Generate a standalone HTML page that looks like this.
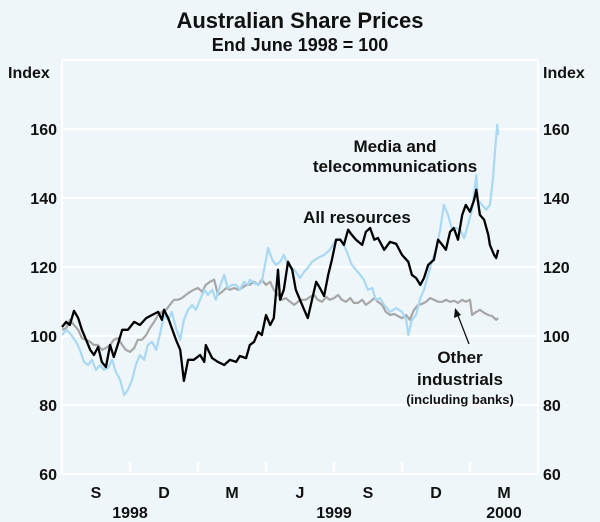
<!DOCTYPE html>
<html><head><meta charset="utf-8"><style>
body{margin:0;background:#eef6fa;}
svg{display:block;font-family:"Liberation Sans",Arial,sans-serif;}
</style></head><body>
<svg id="chart" width="600" height="522" viewBox="0 0 600 522">
<rect x="0" y="0" width="600" height="522" fill="#eef6fa"/>
<text x="300" y="28" text-anchor="middle" font-size="22" font-weight="bold" fill="#111">Australian Share Prices</text>
<text x="300" y="51" text-anchor="middle" font-size="18" font-weight="bold" fill="#111">End June 1998 = 100</text>
<text x="8" y="78" font-size="16" font-weight="bold" fill="#111">Index</text>
<text x="543" y="78" font-size="16" font-weight="bold" fill="#111">Index</text>
<g id="grid"></g>
<g id="series"></g>
<text x="395" y="152" text-anchor="middle" font-size="17" font-weight="bold" fill="#111">Media and</text>
<text x="395" y="172" text-anchor="middle" font-size="17" font-weight="bold" fill="#111">telecommunications</text>
<text x="357" y="223" text-anchor="middle" font-size="17" font-weight="bold" fill="#111">All resources</text>
<text x="460" y="363" text-anchor="middle" font-size="17" font-weight="bold" fill="#111">Other</text>
<text x="460" y="385" text-anchor="middle" font-size="17" font-weight="bold" fill="#111">industrials</text>
<text x="460" y="404" text-anchor="middle" font-size="13" font-weight="bold" fill="#111">(including banks)</text>
<line x1="469" y1="344" x2="457" y2="313" stroke="#111" stroke-width="1.3"/>
<polygon points="455,308 454,318 461,315" fill="#111"/>
</svg>
<script>
const yTicks=[60,80,100,120,140,160];
const quarterLabels=["S","D","M","J","S","D","M"];
const yearLabels=["1998","1999","2000"];
const yearQuarterPos=[1,4,6.5];
const resWeeks=[0,0.8,1.5,2.3,3.1,3.8,4.6,5.4,6.1,6.9,7.6,8.4,9.2,9.9,10.7,11.5,12.6,13.8,14.9,16.1,17.2,18.4,19.1,19.5,20.3,21.0,21.8,22.6,23.3,24.1,25.2,26.4,27.2,27.5,28.7,29.8,31.0,32.1,33.3,34.0,35.2,35.9,36.7,37.5,38.2,39.0,39.8,40.5,41.3,41.7,42.4,43.2,44.0,44.7,45.5,46.3,47.0,47.8,48.6,49.3,50.1,50.9,51.6,52.4,53.2,53.9,54.7,55.4,56.2,57.4,58.1,58.9,59.7,60.4,61.6,62.7,63.9,65.0,66.2,66.9,67.7,68.5,69.2,70.0,71.1,71.9,72.7,73.4,74.2,74.9,75.7,76.5,77.2,78.0,78.8,79.2,79.9,80.7,81.5,81.8,82.6,83.0,83.4];
const resValues=[102.6,104.1,103.2,107.3,105.2,101.8,98.9,96.0,94.5,96.8,92.5,91.0,97.4,93.9,97.7,101.8,101.8,104.1,103.2,105.2,106.1,107.0,104.7,107.6,105.2,102.3,98.9,96.0,87.0,93.1,93.1,94.5,92.5,97.4,93.6,92.5,91.6,93.1,92.5,94.2,93.6,97.4,98.3,101.2,100.3,106.1,103.2,105.2,119.2,110.5,113.4,121.5,119.2,113.4,110.5,107.6,105.2,110.5,115.7,113.9,111.6,117.7,122.1,127.9,127.9,126.4,130.8,129.3,127.9,126.4,130.2,131.3,127.9,128.4,125.0,127.3,126.7,123.5,121.5,117.7,116.8,114.8,116.8,120.6,122.1,127.9,126.4,125.0,130.2,131.3,127.9,135.1,138.0,136.0,139.5,142.4,135.1,133.7,129.3,126.4,123.5,122.6,125.0];
const mediaWeeks=[0,0.8,1.5,2.7,3.4,4.2,5.0,5.7,6.5,7.3,8.0,8.8,9.6,10.3,11.1,11.9,12.6,13.4,14.1,14.9,15.7,16.4,17.2,18.0,18.7,19.5,20.3,21.0,21.8,22.6,23.3,24.1,24.9,25.6,26.4,27.2,27.9,28.7,29.4,30.2,31.0,31.7,32.5,33.3,34.0,34.8,35.6,35.9,36.7,37.5,38.2,39.4,40.2,40.9,41.7,42.4,43.2,44.4,45.5,46.3,47.0,47.8,48.9,50.1,51.2,52.4,53.2,53.9,54.7,55.4,56.2,57.0,57.7,58.5,59.3,60.0,60.8,61.6,62.7,63.9,65.0,65.8,66.2,66.9,67.7,68.5,69.2,70.0,70.7,71.5,72.3,73.0,73.8,74.6,75.3,76.1,76.9,77.6,78.4,79.2,79.5,80.3,81.1,81.8,82.4,82.8,83.2,83.4];
const mediaValues=[100.3,101.8,100.9,98.3,96.0,92.5,91.6,93.1,90.2,91.6,90.2,90.7,93.1,89.6,87.3,82.9,84.4,87.3,91.6,94.5,93.1,97.4,98.3,96.0,100.3,106.1,104.7,107.0,102.3,98.9,104.7,107.6,109.0,107.6,110.5,113.4,111.9,113.4,110.5,114.5,117.7,113.9,114.8,114.8,113.4,115.7,114.8,116.3,115.4,114.8,115.7,125.5,122.1,120.6,121.5,123.5,120.6,119.2,116.8,118.6,119.7,121.5,122.6,123.5,125.0,127.9,127.9,126.4,123.5,120.6,119.2,117.7,116.3,113.4,113.9,110.5,111.0,109.0,107.0,108.1,107.0,104.7,100.3,104.7,106.1,111.0,113.4,117.7,121.5,125.0,130.8,138.0,135.1,130.8,131.3,130.8,128.4,132.2,136.6,146.7,139.5,138.0,136.6,138.0,145.8,154.0,161.2,158.3];
const otherWeeks=[0,0.8,1.5,2.3,3.1,3.8,4.6,5.4,6.1,6.9,7.6,8.4,9.2,9.9,10.7,11.5,12.2,13.0,13.8,14.5,15.3,16.1,16.8,17.6,18.4,19.1,19.9,20.6,21.4,22.2,22.9,23.7,24.5,25.2,26.0,26.8,27.5,28.3,29.1,29.8,30.6,31.4,32.1,32.9,33.7,34.4,35.2,35.9,36.7,37.5,38.2,39.0,39.8,40.5,41.3,42.1,42.8,43.6,44.4,45.1,45.9,46.6,47.4,48.2,48.9,49.7,50.5,51.2,52.0,52.8,53.5,54.3,55.1,55.8,56.6,57.4,58.1,58.9,59.7,60.4,61.2,61.9,62.7,63.5,64.2,65.0,65.8,66.5,67.3,68.1,68.8,69.6,70.4,71.1,71.9,72.7,73.4,74.2,75.0,75.7,76.5,77.2,78.0,78.4,79.2,79.9,80.7,81.5,82.2,83.0,83.4];
const otherValues=[101.8,102.3,104.7,103.2,101.8,99.4,98.9,98.3,97.4,97.4,96.0,96.5,97.4,98.9,99.4,97.4,96.0,95.4,96.5,98.9,98.9,100.3,102.3,104.1,106.1,107.0,107.6,109.0,110.5,110.5,111.0,111.9,112.8,113.4,113.9,112.8,114.8,115.7,116.3,111.9,112.8,113.9,113.4,113.9,113.4,113.9,114.8,114.8,115.7,114.8,116.3,114.8,115.7,113.4,111.9,110.5,111.0,109.9,109.0,109.9,110.5,110.5,111.3,111.9,110.5,109.9,111.3,110.5,111.0,111.9,110.5,109.9,111.0,109.6,109.6,110.5,109.0,109.9,111.0,109.9,109.0,107.0,106.1,106.4,105.8,105.2,106.1,104.7,107.6,109.0,109.3,109.9,111.0,110.5,109.9,109.9,110.5,109.9,110.2,109.6,110.5,109.9,110.5,106.1,107.0,107.6,106.7,106.1,105.8,104.7,105.2];

const NS="http://www.w3.org/2000/svg";
const X0=62,X1=538,Ytop=60,Ybot=474,YMIN=60,YMAX=180,WEEKS=91;
function xScale(w){return X0+w*(X1-X0)/WEEKS;}
function yScale(v){return Ybot-(v-YMIN)*(Ybot-Ytop)/(YMAX-YMIN);}
function mk(tag,attrs,parent){const e=document.createElementNS(NS,tag);for(const k in attrs)e.setAttribute(k,attrs[k]);parent.appendChild(e);return e;}
const grid=document.getElementById('grid');
yTicks.forEach(v=>{
  const ln=mk('line',{x1:X0,x2:X1,y1:yScale(v),y2:yScale(v),stroke:'#fff','stroke-width':2},grid);
  
  
  const tl=mk('text',{x:X0-5,y:yScale(v)+6,'text-anchor':'end','font-size':16,'font-weight':'bold',fill:'#111'},grid);
  tl.textContent=v;
  
  
  const tr=mk('text',{x:X1+5,y:yScale(v)+6,'font-size':16,'font-weight':'bold',fill:'#111'},grid);
  tr.textContent=v;
  
  
});
[X0,X1].forEach((x,i)=>{
  const b=mk('line',{x1:x,x2:x,y1:Ytop,y2:Ybot,stroke:'#fff','stroke-width':2},grid);
  
  
});
mk('line',{x1:X0,x2:X1,y1:Ytop,y2:Ytop,stroke:'#fff','stroke-width':1.5},grid);
const qw=WEEKS/7;
for(let q=1;q<7;q++){
  const t=mk('line',{x1:xScale(q*qw),x2:xScale(q*qw),y1:Ybot-12,y2:Ybot,stroke:'#fff','stroke-width':2},grid);
  
  
}
quarterLabels.forEach((l,i)=>{
  const t=mk('text',{x:xScale((i+0.5)*qw),y:498,'text-anchor':'middle','font-size':16,'font-weight':'bold',fill:'#111'},grid);
  t.textContent=l;
  
  
});
yearLabels.forEach((l,i)=>{
  const t=mk('text',{x:xScale(yearQuarterPos[i]*qw),y:518,'text-anchor':'middle','font-size':16,'font-weight':'bold',fill:'#111'},grid);
  t.textContent=l;
  
  
});
const ser=document.getElementById('series');
function line(weeks,vals,color,w,name){
  const n=Math.min(weeks.length,vals.length);
  let d='';
  for(let i=0;i<n;i++){d+=(i?'L':'M')+xScale(weeks[i]).toFixed(1)+','+yScale(vals[i]).toFixed(1);}
  const p=mk('path',{d:d,fill:'none',stroke:color,'stroke-width':w,'stroke-linejoin':'round'},ser);
  
  
}
line(otherWeeks,otherValues,'#a6a6a6',2.2,'other-industrials-line');
line(mediaWeeks,mediaValues,'#a9d8f2',2.2,'media-telecom-line');
line(resWeeks,resValues,'#000',2.3,'all-resources-line');
</script>
</body></html>
